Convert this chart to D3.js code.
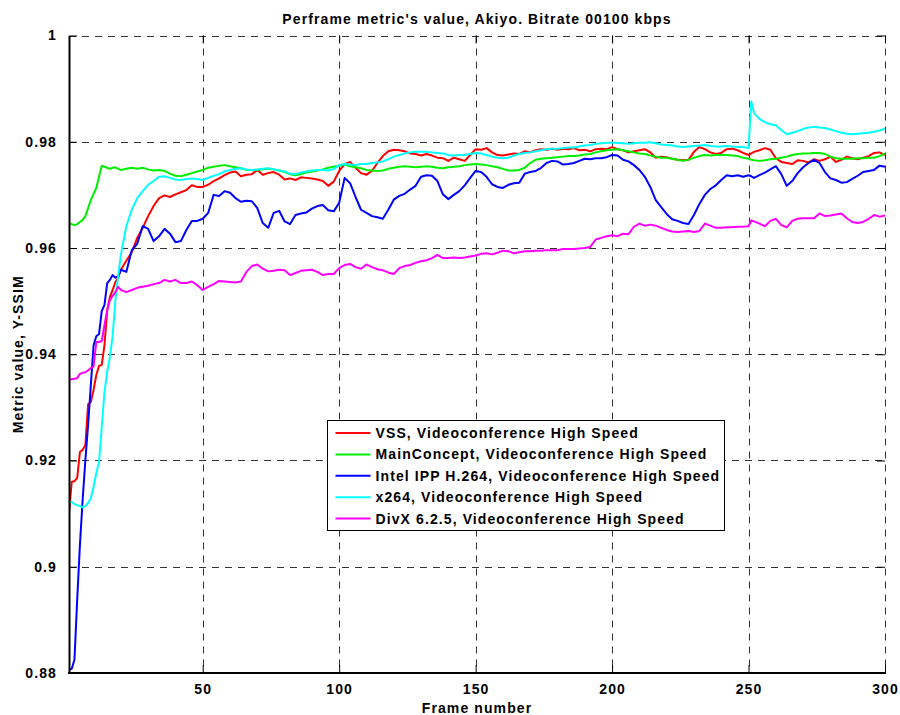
<!DOCTYPE html>
<html>
<head>
<meta charset="utf-8">
<script src="https://cdn.jsdelivr.net/npm/d3@7"></script>
<style>
  body { margin: 0; background: #fff; }
  text { font-family: "Liberation Sans", Arial, sans-serif; font-weight: bold; font-size: 14px; letter-spacing: 1.1px; fill: #000; }
</style>
</head>
<body>
<svg id="chart" width="900" height="715"></svg>
<script>
// Frame numbers: every frame for the first 20, then every second frame (plus 251)
const frames = d3.range(1, 21).concat(d3.range(22, 251, 2), [251], d3.range(252, 301, 2));

const seriesNames = [
  "VSS, Videoconference High Speed",
  "MainConcept, Videoconference High Speed",
  "Intel IPP H.264, Videoconference High Speed",
  "x264, Videoconference High Speed",
  "DivX 6.2.5, Videoconference High Speed"
];
const seriesColors = ["#ff0000", "#00ee00", "#0000ff", "#00ffff", "#ff00ff"];

const vss = [
  .9101,.9160,.9161,.9167,.9216,.9220,.9229,.9306,.9310,.9333,
  .9361,.9378,.9380,.9417,.9483,.9508,.9521,.9536,.9544,.9559,
  .9576,.9592,.9619,.9638,.9660,.9679,.9694,.9699,.9696,.9701,
  .9705,.9709,.9718,.9715,.9715,.9719,.9726,.9731,.9737,.9742,
  .9744,.9735,.9738,.9739,.9747,.9738,.9741,.9743,.9738,.9729,
  .9731,.9728,.9733,.9732,.9731,.9729,.9726,.9717,.9725,.9745,
  .9758,.9762,.9751,.9741,.9738,.9745,.9760,.9773,.9782,.9785,
  .9784,.9782,.9778,.9777,.9774,.9777,.9774,.9770,.9769,.9764,
  .9770,.9767,.9764,.9775,.9786,.9785,.9788,.9780,.9775,.9774,
  .9776,.9778,.9777,.9782,.9780,.9784,.9786,.9785,.9787,.9785,
  .9787,.9786,.9788,.9784,.9785,.9782,.9786,.9787,.9786,.9790,
  .9786,.9784,.9780,.9782,.9784,.9786,.9780,.9770,.9772,.9771,
  .9768,.9766,.9765,.9766,.9781,.9790,.9786,.9780,.9777,.9779,
  .9786,.9787,.9784,.9779,.9775,
  .9778,
  .9781,.9784,.9788,.9785,.9769,.9762,.9760,.9758,.9765,.9764,
  .9761,.9767,.9764,.9767,.9772,.9762,.9766,.9772,.9769,.9767,
  .9770,.9773,.9779,.9780,.9775
];

const mainConcept = [
  .9647,.9645,.9643,.9645,.9649,.9653,.9660,.9675,.9690,.9702,
  .9713,.9734,.9755,.9753,.9751,.9749,.9751,.9752,.9749,.9747,
  .9749,.9751,.9749,.9751,.9748,.9746,.9747,.9745,.9740,.9736,
  .9735,.9738,.9741,.9744,.9747,.9751,.9753,.9755,.9756,.9754,
  .9752,.9750,.9747,.9747,.9747,.9748,.9749,.9748,.9746,.9743,
  .9739,.9737,.9739,.9742,.9744,.9746,.9748,.9751,.9753,.9755,
  .9757,.9754,.9752,.9750,.9747,.9746,.9745,.9746,.9749,.9751,
  .9753,.9754,.9753,.9752,.9753,.9754,.9753,.9751,.9750,.9752,
  .9753,.9754,.9756,.9757,.9758,.9757,.9756,.9754,.9752,.9749,
  .9746,.9746,.9747,.9751,.9760,.9766,.9768,.9769,.9770,.9771,
  .9772,.9773,.9773,.9774,.9776,.9777,.9780,.9782,.9784,.9785,
  .9786,.9784,.9782,.9780,.9778,.9777,.9774,.9772,.9770,.9770,
  .9768,.9766,.9764,.9766,.9770,.9773,.9775,.9774,.9775,.9775,
  .9775,.9774,.9773,.9770,.9768,
  .9766,
  .9765,.9764,.9765,.9767,.9768,.9770,.9772,.9775,.9777,.9778,
  .9778,.9779,.9779,.9777,.9772,.9769,.9768,.9768,.9768,.9769,
  .9769,.9770,.9770,.9773,.9778
];

const intelIpp = [
  .8806,.8808,.8825,.8938,.9041,.9126,.9201,.9267,.9342,.9417,
  .9434,.9438,.9481,.9493,.9534,.9540,.9549,.9544,.9547,.9559,
  .9555,.9596,.9608,.9641,.9636,.9613,.9622,.9636,.9627,.9611,
  .9613,.9634,.9651,.9651,.9655,.9666,.9700,.9698,.9707,.9704,
  .9694,.9687,.9689,.9688,.9675,.9647,.9638,.9666,.9670,.9650,
  .9645,.9662,.9665,.9667,.9674,.9679,.9681,.9671,.9669,.9685,
  .9732,.9722,.9696,.9672,.9666,.9660,.9658,.9655,.9672,.9691,
  .9698,.9702,.9710,.9717,.9734,.9737,.9736,.9726,.9701,.9692,
  .9700,.9707,.9718,.9732,.9745,.9743,.9734,.9720,.9715,.9713,
  .9719,.9722,.9723,.9740,.9743,.9745,.9751,.9760,.9764,.9763,
  .9757,.9758,.9760,.9764,.9768,.9767,.9769,.9769,.9771,.9775,
  .9774,.9766,.9763,.9756,.9747,.9734,.9715,.9690,.9677,.9664,
  .9654,.9651,.9647,.9645,.9662,.9683,.9700,.9711,.9718,.9728,
  .9737,.9735,.9737,.9734,.9737,
  .9735,
  .9732,.9737,.9742,.9748,.9754,.9739,.9717,.9726,.9741,.9752,
  .9760,.9766,.9760,.9743,.9731,.9728,.9723,.9724,.9730,.9736,
  .9743,.9745,.9747,.9755,.9753
];

const x264 = [
  .9122,.9122,.9118,.9116,.9114,.9112,.9114,.9120,.9129,.9150,
  .9176,.9197,.9263,.9329,.9367,.9395,.9435,.9502,.9547,.9587,
  .9641,.9672,.9694,.9707,.9719,.9726,.9734,.9735,.9732,.9729,
  .9728,.9730,.9731,.9730,.9728,.9732,.9736,.9739,.9744,.9747,
  .9749,.9750,.9748,.9747,.9748,.9749,.9750,.9748,.9746,.9744,
  .9740,.9739,.9742,.9744,.9746,.9747,.9747,.9746,.9749,.9756,
  .9758,.9757,.9756,.9758,.9758,.9760,.9761,.9763,.9767,.9772,
  .9775,.9778,.9780,.9781,.9781,.9781,.9780,.9779,.9778,.9775,
  .9774,.9775,.9775,.9777,.9779,.9778,.9775,.9772,.9770,.9769,
  .9770,.9774,.9777,.9779,.9780,.9782,.9784,.9786,.9787,.9787,
  .9788,.9789,.9789,.9791,.9793,.9794,.9796,.9797,.9798,.9798,
  .9798,.9797,.9796,.9797,.9798,.9798,.9799,.9797,.9795,.9794,
  .9793,.9791,.9790,.9791,.9792,.9793,.9794,.9792,.9791,.9791,
  .9792,.9791,.9790,.9790,.9788,
  .9876,
  .9854,.9843,.9837,.9833,.9831,.9822,.9814,.9817,.9820,.9824,
  .9827,.9828,.9827,.9826,.9823,.9820,.9817,.9815,.9814,.9815,
  .9816,.9817,.9819,.9821,.9825
];

const divx = [
  .9353,.9353,.9354,.9355,.9363,.9365,.9366,.9370,.9374,.9377,
  .9423,.9423,.9425,.9455,.9483,.9502,.9510,.9517,.9527,.9521,
  .9517,.9521,.9525,.9527,.9529,.9532,.9534,.9540,.9537,.9540,
  .9534,.9534,.9537,.9530,.9521,.9527,.9532,.9538,.9537,.9536,
  .9535,.9537,.9555,.9566,.9569,.9561,.9556,.9557,.9559,.9558,
  .9549,.9553,.9557,.9558,.9559,.9555,.9549,.9551,.9551,.9562,
  .9568,.9570,.9564,.9561,.9569,.9564,.9560,.9558,.9554,.9551,
  .9562,.9566,.9568,.9572,.9575,.9577,.9581,.9587,.9581,.9581,
  .9582,.9581,.9582,.9584,.9586,.9589,.9590,.9588,.9591,.9595,
  .9594,.9590,.9592,.9594,.9594,.9595,.9595,.9596,.9596,.9596,
  .9598,.9598,.9598,.9599,.9600,.9602,.9616,.9619,.9622,.9624,
  .9622,.9627,.9626,.9640,.9646,.9642,.9644,.9642,.9638,.9634,
  .9631,.9630,.9631,.9632,.9630,.9632,.9646,.9642,.9638,.9638,
  .9639,.9639,.9640,.9640,.9641,
  .9652,
  .9650,.9646,.9641,.9651,.9655,.9643,.9639,.9651,.9655,.9656,
  .9656,.9656,.9665,.9660,.9661,.9663,.9665,.9656,.9649,.9647,
  .9649,.9655,.9662,.9659,.9661
];

const xTicks = [50, 100, 150, 200, 250, 300];
const yTicks = [0.88, 0.9, 0.92, 0.94, 0.96, 0.98, 1];
const yTickLabels = ["0.88", "0.9", "0.92", "0.94", "0.96", "0.98", "1"];

const titleText = "Perframe metric's value, Akiyo. Bitrate 00100 kbps";
const xTitle = "Frame number";
const yTitle = "Metric value, Y-SSIM";

const series = [vss, mainConcept, intelIpp, x264, divx];

const svg = d3.select("#chart");
const plot = { left: 69, right: 885, top: 35.5, bottom: 673 };

const x = d3.scaleLinear().domain([1, 300]).range([plot.left, plot.right]);
const y = d3.scaleLinear().domain([0.88, 1]).range([plot.bottom, plot.top]);

svg.append("rect").attr("width", 900).attr("height", 715).attr("fill", "#fff");

// Dashed grid
const grid = svg.append("g").attr("stroke", "#333").attr("stroke-width", 1)
  .attr("stroke-dasharray", "7,6").attr("fill", "none");
grid.selectAll("line.gx").data(xTicks).join("line")
  .attr("x1", d => Math.round(x(d)) + 0.5).attr("x2", d => Math.round(x(d)) + 0.5)
  .attr("y1", plot.top).attr("y2", plot.bottom);
grid.selectAll("line.gy").data(yTicks.filter(d => d > 0.88)).join("line")
  .attr("x1", plot.left).attr("x2", plot.right)
  .attr("y1", d => Math.round(y(d)) + 0.5).attr("y2", d => Math.round(y(d)) + 0.5);

// Data lines
svg.append("clipPath").attr("id", "clip").append("rect")
  .attr("x", plot.left).attr("y", plot.top - 2)
  .attr("width", plot.right - plot.left + 2).attr("height", plot.bottom - plot.top + 2);

const line = d3.line().x((d, i) => x(frames[i])).y(d => y(d));
const lines = svg.append("g").attr("clip-path", "url(#clip)");
series.forEach((vals, k) => {
  lines.append("path").datum(vals)
    .attr("d", line)
    .attr("fill", "none")
    .attr("stroke", seriesColors[k])
    .attr("stroke-width", 2)
    .attr("stroke-linejoin", "round");
});

// Axes: solid left and bottom, inward ticks on all sides
const axisG = svg.append("g");
const tickLen = 8;
axisG.append("g").attr("transform", `translate(${plot.left},0)`)
  .call(d3.axisLeft(y).tickValues(yTicks).tickSizeInner(-tickLen).tickSizeOuter(0)
    .tickFormat((d, i) => yTickLabels[i]).tickPadding(12))
  .call(g => g.select(".domain").attr("stroke-width", 2));
axisG.append("g").attr("transform", `translate(0,${plot.bottom})`)
  .call(d3.axisBottom(x).tickValues(xTicks).tickSizeInner(-tickLen).tickSizeOuter(0)
    .tickFormat(d3.format("d")).tickPadding(11))
  .call(g => g.select(".domain").attr("stroke-width", 2).attr("d", `M${plot.left - 1},0H${plot.right + 1}`));
axisG.append("g").attr("transform", `translate(0,${plot.top})`)
  .call(d3.axisTop(x).tickValues(xTicks).tickSizeInner(-tickLen).tickSizeOuter(0).tickFormat(""))
  .call(g => g.select(".domain").remove());
axisG.append("g").attr("transform", `translate(${plot.right},0)`)
  .call(d3.axisRight(y).tickValues(yTicks).tickSizeInner(-tickLen).tickSizeOuter(0).tickFormat(""))
  .call(g => g.select(".domain").remove());
axisG.selectAll(".tick line").attr("stroke", "#000");
axisG.selectAll("text").attr("font-family", null).attr("font-size", null).attr("fill", "#000");

// Titles
svg.append("text").attr("x", (plot.left + plot.right) / 2).attr("y", 23.5)
  .attr("text-anchor", "middle").text(titleText);
svg.append("text").attr("x", (plot.left + plot.right) / 2).attr("y", 713)
  .attr("text-anchor", "middle").text(xTitle);
svg.append("text").attr("transform", `translate(23,${(plot.top + plot.bottom) / 2}) rotate(-90)`)
  .attr("text-anchor", "middle").text(yTitle);

// Legend
const lg = svg.append("g").attr("transform", "translate(327.5,420.5)");
lg.append("rect").attr("width", 397).attr("height", 110)
  .attr("fill", "#fff").attr("stroke", "#000").attr("stroke-width", 1);
seriesNames.forEach((name, k) => {
  const cy = 12.5 + k * 21.4;
  lg.append("line").attr("x1", 8).attr("x2", 43).attr("y1", cy).attr("y2", cy)
    .attr("stroke", seriesColors[k]).attr("stroke-width", 2);
  lg.append("text").attr("x", 48).attr("y", cy + 5).text(name);
});
</script>
</body>
</html>
